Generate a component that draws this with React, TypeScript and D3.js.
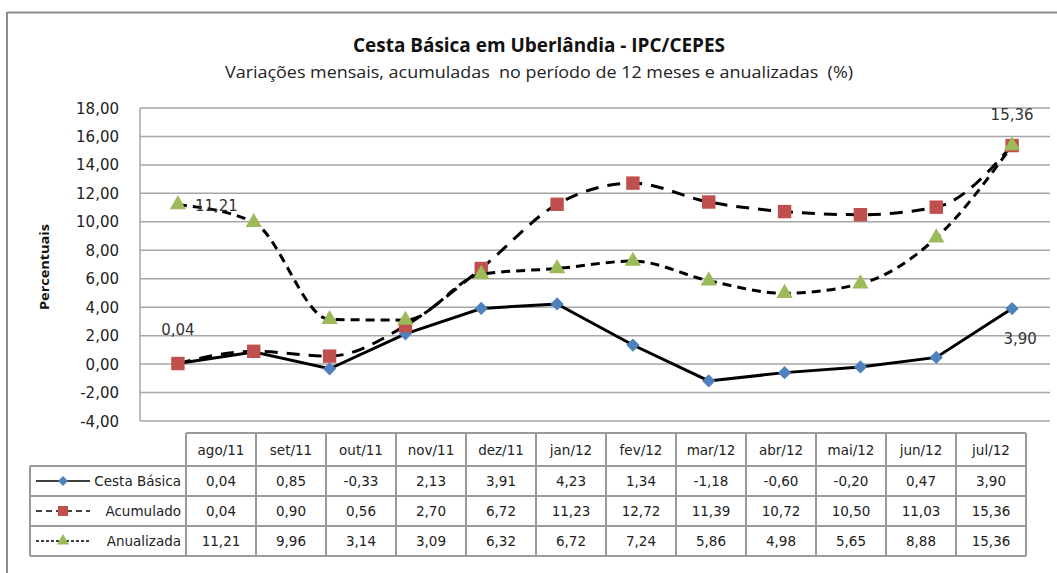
import React, { useRef, useEffect } from 'react';
import * as d3 from 'd3';

const months = ['ago/11', 'set/11', 'out/11', 'nov/11', 'dez/11', 'jan/12', 'fev/12', 'mar/12', 'abr/12', 'mai/12', 'jun/12', 'jul/12'];
const cestaBasica = [0.04, 0.85, -0.33, 2.13, 3.91, 4.23, 1.34, -1.18, -0.60, -0.20, 0.47, 3.90];
const acumulado = [0.04, 0.90, 0.56, 2.70, 6.72, 11.23, 12.72, 11.39, 10.72, 10.50, 11.03, 15.36];
const anualizada = [11.21, 9.96, 3.14, 3.09, 6.32, 6.72, 7.24, 5.86, 4.98, 5.65, 8.88, 15.36];
const yTicks = [-4, -2, 0, 2, 4, 6, 8, 10, 12, 14, 16, 18];

const series = [
  { name: 'Cesta Básica', values: cestaBasica, marker: 'diamond', color: '#4f81bd', dash: null, smooth: false },
  { name: 'Acumulado', values: acumulado, marker: 'square', color: '#c0504d', dash: '13,9', smooth: true },
  { name: 'Anualizada', values: anualizada, marker: 'triangle', color: '#9bbb59', dash: '9,6', smooth: true },
];

const fmt = (v: number) => v.toFixed(2).replace('.', ',');

const W = 1057;
const H = 573;
const FONT = '"DejaVu Sans", Tahoma, sans-serif';
const TITLE_FONT = '"Liberation Sans Narrow", "Open Sans", sans-serif';

function drawMarker(g: any, type: string, x: number, y: number, color: string, scale = 1) {
  if (type === 'diamond') {
    g.append('path')
      .attr('d', d3.symbol(d3.symbolSquare, 88 * scale * scale)())
      .attr('transform', `translate(${x},${y}) rotate(45)`)
      .attr('fill', color);
  } else if (type === 'square') {
    g.append('path')
      .attr('d', d3.symbol(d3.symbolSquare, 180 * scale * scale)())
      .attr('transform', `translate(${x},${y})`)
      .attr('fill', color);
  } else {
    g.append('path')
      .attr('d', d3.symbol(d3.symbolTriangle, 115 * scale * scale)())
      .attr('transform', `translate(${x},${y})`)
      .attr('fill', color);
  }
}

const App = () => {
  const svgRef = useRef<SVGSVGElement>(null);

  useEffect(() => {
    const svg = d3.select(svgRef.current);
    svg.selectAll('*').remove();

    const x = d3.scaleBand().domain(months).range([140, 1050]);
    const y = d3.scaleLinear().domain([-4, 18]).range([421, 108]);
    const cx = (m: string) => (x(m) as number) + x.bandwidth() / 2;

    // outer frame
    svg.append('line').attr('x1', 7).attr('x2', W).attr('y1', 12.5).attr('y2', 12.5)
      .attr('stroke', '#8c8c8c').attr('stroke-width', 2);
    svg.append('line').attr('x1', 7).attr('x2', 7).attr('y1', 12).attr('y2', H)
      .attr('stroke', '#8c8c8c').attr('stroke-width', 2);

    // titles
    svg.append('text')
      .attr('x', 539).attr('y', 52)
      .attr('text-anchor', 'middle')
      .attr('font-family', TITLE_FONT)
      .attr('font-weight', 'bold')
      .attr('font-size', 19)
      .attr('fill', '#111')
      .attr('textLength', 372).attr('lengthAdjust', 'spacingAndGlyphs')
      .text('Cesta Básica em Uberlândia - IPC/CEPES');
    svg.append('text')
      .attr('x', 539).attr('y', 78)
      .attr('text-anchor', 'middle')
      .attr('font-family', TITLE_FONT)
      .attr('font-size', 16)
      .attr('fill', '#222')
      .style('white-space', 'pre')
      .attr('textLength', 628).attr('lengthAdjust', 'spacingAndGlyphs')
      .text('Variações mensais, acumuladas  no período de 12 meses e anualizadas  (%)');

    // gridlines + y ticks
    const grid = svg.append('g');
    yTicks.forEach(t => {
      grid.append('line')
        .attr('x1', 140).attr('x2', 1050)
        .attr('y1', y(t)).attr('y2', y(t))
        .attr('stroke', '#a6a6a6').attr('stroke-width', 1.5);
      grid.append('text')
        .attr('x', 119).attr('y', y(t) + 5.5)
        .attr('text-anchor', 'end')
        .attr('font-family', FONT)
        .attr('font-size', 15)
        .attr('fill', '#222')
        .text(fmt(t));
    });
    grid.append('line')
      .attr('x1', 140).attr('x2', 140).attr('y1', y(18)).attr('y2', y(-4))
      .attr('stroke', '#a6a6a6').attr('stroke-width', 1.5);

    svg.append('text')
      .attr('transform', `translate(49,267) rotate(-90)`)
      .attr('text-anchor', 'middle')
      .attr('font-family', TITLE_FONT)
      .attr('font-weight', 'bold')
      .attr('font-size', 13)
      .attr('fill', '#111')
      .attr('textLength', 86).attr('lengthAdjust', 'spacingAndGlyphs')
      .text('Percentuais');

    // series
    series.forEach(s => {
      const g = svg.append('g');
      const line = d3.line<number>()
        .x((d, i) => cx(months[i]))
        .y(d => y(d))
        .curve(s.smooth ? d3.curveMonotoneX : d3.curveLinear);
      g.append('path')
        .datum(s.values)
        .attr('fill', 'none')
        .attr('stroke', 'black')
        .attr('stroke-width', 3)
        .attr('stroke-dasharray', s.dash)
        .attr('d', line);
      s.values.forEach((v, i) => drawMarker(g, s.marker, cx(months[i]), y(v), s.color));
    });

    // data labels
    const labels = [
      { text: fmt(cestaBasica[0]), x: cx(months[0]), y: 335, anchor: 'middle' },
      { text: fmt(anualizada[0]), x: cx(months[0]) + 17, y: 211, anchor: 'start' },
      { text: fmt(acumulado[11]), x: cx(months[11]), y: 120, anchor: 'middle' },
      { text: fmt(cestaBasica[11]), x: cx(months[11]) + 8, y: 344, anchor: 'middle' },
    ];
    labels.forEach(l => {
      svg.append('text')
        .attr('x', l.x).attr('y', l.y)
        .attr('text-anchor', l.anchor)
        .attr('font-family', FONT)
        .attr('font-size', 15)
        .attr('fill', '#333')
        .text(l.text);
    });

    // data table
    const tx = d3.scaleBand().domain(months).range([186, 1026]);
    const rowY = [433, 466, 496, 526, 556];
    const tbl = svg.append('g');
    const border = '#9a9a9a';
    // horizontal lines
    rowY.forEach((ry, i) => {
      tbl.append('line')
        .attr('x1', i === 0 ? 186 : 30).attr('x2', 1026)
        .attr('y1', ry).attr('y2', ry)
        .attr('stroke', border).attr('stroke-width', 2);
    });
    // vertical lines
    months.forEach(m => {
      tbl.append('line')
        .attr('x1', tx(m) as number).attr('x2', tx(m) as number)
        .attr('y1', rowY[0]).attr('y2', rowY[4])
        .attr('stroke', border).attr('stroke-width', 2);
    });
    tbl.append('line').attr('x1', 1026).attr('x2', 1026).attr('y1', rowY[0]).attr('y2', rowY[4])
      .attr('stroke', border).attr('stroke-width', 2);
    tbl.append('line').attr('x1', 30).attr('x2', 30).attr('y1', rowY[1]).attr('y2', rowY[4])
      .attr('stroke', border).attr('stroke-width', 2);

    months.forEach(m => {
      tbl.append('text')
        .attr('x', (tx(m) as number) + tx.bandwidth() / 2)
        .attr('y', (rowY[0] + rowY[1]) / 2 + 5)
        .attr('text-anchor', 'middle')
        .attr('font-family', FONT)
        .attr('font-size', 13.5)
        .attr('fill', '#222')
        .text(m);
    });

    series.forEach((s, si) => {
      const my = (rowY[si + 1] + rowY[si + 2]) / 2;
      s.values.forEach((v, i) => {
        tbl.append('text')
          .attr('x', (tx(months[i]) as number) + tx.bandwidth() / 2)
          .attr('y', my + 5)
          .attr('text-anchor', 'middle')
          .attr('font-family', FONT)
          .attr('font-size', 13.5)
          .attr('fill', '#222')
          .text(fmt(v));
      });
      // legend key
      tbl.append('line')
        .attr('x1', 36).attr('x2', 90)
        .attr('y1', my).attr('y2', my)
        .attr('stroke', 'black')
        .attr('stroke-width', 1.5)
        .attr('stroke-dasharray', s.dash ? (si === 1 ? '6,4' : '3,2') : null);
      drawMarker(tbl, s.marker, 63, my, s.color, 0.75);
      tbl.append('text')
        .attr('x', 181).attr('y', my + 5)
        .attr('text-anchor', 'end')
        .attr('font-family', FONT)
        .attr('font-size', 13.5)
        .attr('fill', '#222')
        .text(s.name);
    });
  }, []);

  return (
    <div style={{ position: 'absolute', left: 0, top: 0, width: W, height: H, background: 'white' }}>
      <svg ref={svgRef} width={W} height={H} style={{ display: 'block' }}></svg>
    </div>
  );
};

export default App;
